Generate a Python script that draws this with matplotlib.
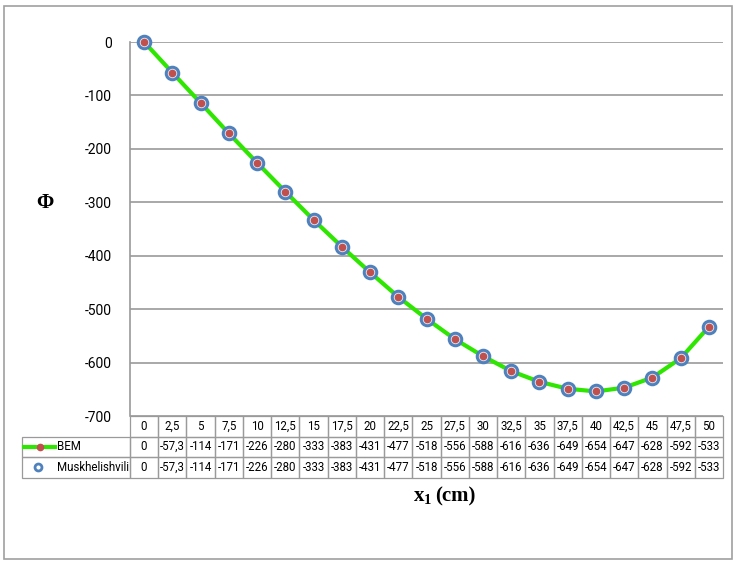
import numpy as np
import matplotlib.pyplot as plt
from matplotlib.patches import Rectangle
import matplotlib.transforms as mtransforms

# data
x_labels = ["0", "2,5", "5", "7,5", "10", "12,5", "15", "17,5", "20", "22,5", "25",
            "27,5", "30", "32,5", "35", "37,5", "40", "42,5", "45", "47,5", "50"]
bem = [0, -57.3, -114, -171, -226, -280, -333, -383, -431, -477, -518,
       -556, -588, -616, -636, -649, -654, -647, -628, -592, -533]
musk = [0, -57.3, -114, -171, -226, -280, -333, -383, -431, -477, -518,
        -556, -588, -616, -636, -649, -654, -647, -628, -592, -533]
series_names = ["BEM", "Muskhelishvili"]

plt.rcParams["axes.unicode_minus"] = False
plt.rcParams["font.family"] = ["Roboto", "DejaVu Sans"]
plt.rcParams["mathtext.fontset"] = "custom"
plt.rcParams["mathtext.bf"] = "Liberation Serif:bold"
plt.rcParams["mathtext.rm"] = "Liberation Serif"


def fmt(v):
    s = f"{v:g}"
    return s.replace(".", ",")


fig = plt.figure(figsize=(7.38, 5.66), dpi=100)
fig.patches.append(Rectangle((4 / 738, 1 - 559 / 566), 728 / 738, 553 / 566,
                             transform=fig.transFigure, fill=False,
                             edgecolor="#a0a0a0", lw=1.2))

ax = fig.add_axes([130 / 738, 1 - 416 / 566, 593 / 738, 374 / 566])
xs = np.arange(len(x_labels))

green = "#2ee600"
ax.plot(xs, bem, color=green, lw=3, zorder=3, clip_on=False)
ax.plot(xs, musk, ls="none", marker="o", ms=9, mfc="#e4eaf2",
        mec="#4f81bd", mew=2.2, zorder=4, clip_on=False)
ax.plot(xs, bem, ls="none", marker="o", ms=4.5, mfc="#c0504d",
        mec="#c0504d", zorder=5, clip_on=False)

ax.set_xlim(-0.5, len(x_labels) - 0.5)
ax.set_ylim(-700, 0)
ax.set_yticks(np.arange(-700, 1, 100))
ax.set_xticks([])
ax.tick_params(axis="y", length=0, labelsize=10, pad=13)
ax.grid(axis="y", color="#9a9a9a", lw=1.2)
ax.set_axisbelow(True)
for side in ["top", "right", "bottom"]:
    ax.spines[side].set_visible(False)
ax.spines["left"].set_color("#9a9a9a")
ax.spines["left"].set_linewidth(1.2)

ax.text(-0.144, 0.57, "Φ", transform=ax.transAxes, fontsize=15,
        fontweight="bold", family="Liberation Serif", ha="center", va="center")

# data table under the plot (x in data units, y in axes units)
trans = mtransforms.blended_transform_factory(ax.transData, ax.transAxes)
rh = 20.5 / 374
cw = 593 / 21
edge = "#9a9a9a"
fs = 8.3
label_left = -0.5 - 108 / cw
for i, lab in enumerate(x_labels):
    ax.add_patch(Rectangle((i - 0.5, -rh), 1, rh, transform=trans, fill=False,
                           edgecolor=edge, lw=0.9, clip_on=False))
    ax.text(i, -rh / 2, lab, transform=trans, ha="center", va="center", fontsize=fs)
rows = [bem, musk]
for r, (name, vals) in enumerate(zip(series_names, rows)):
    y0 = -rh * (r + 2)
    ax.add_patch(Rectangle((label_left, y0), -0.5 - label_left, rh, transform=trans,
                           fill=False, edgecolor=edge, lw=0.9, clip_on=False))
    for i, v in enumerate(vals):
        ax.add_patch(Rectangle((i - 0.5, y0), 1, rh, transform=trans, fill=False,
                               edgecolor=edge, lw=0.9, clip_on=False))
        ax.text(i, y0 + rh / 2, fmt(v), transform=trans, ha="center",
                va="center", fontsize=fs)
    yc = y0 + rh / 2
    if r == 0:
        ax.plot([label_left + 2 / cw, label_left + 33 / cw], [yc, yc], transform=trans,
                color=green, lw=3, clip_on=False)
        ax.plot([label_left + 18 / cw], [yc], transform=trans, marker="o", ms=4.5,
                color="#c0504d", clip_on=False)
    else:
        ax.plot([label_left + 16 / cw], [yc], transform=trans, marker="o", ms=5,
                mfc="white", mec="#4f81bd", mew=2, clip_on=False)
    ax.text(label_left + 35 / cw, yc, name, transform=trans, ha="left",
            va="center", fontsize=fs)

fig.text(432 / 738, 1 - 497 / 566, r"$\mathbf{x}_\mathbf{1}$", ha="right",
         va="center", fontsize=15)
fig.text(435 / 738, 1 - 496 / 566, "(cm)", ha="left", va="center", fontsize=15,
         fontweight="bold", family="Liberation Serif")

fig.savefig("out.png", dpi=100)
